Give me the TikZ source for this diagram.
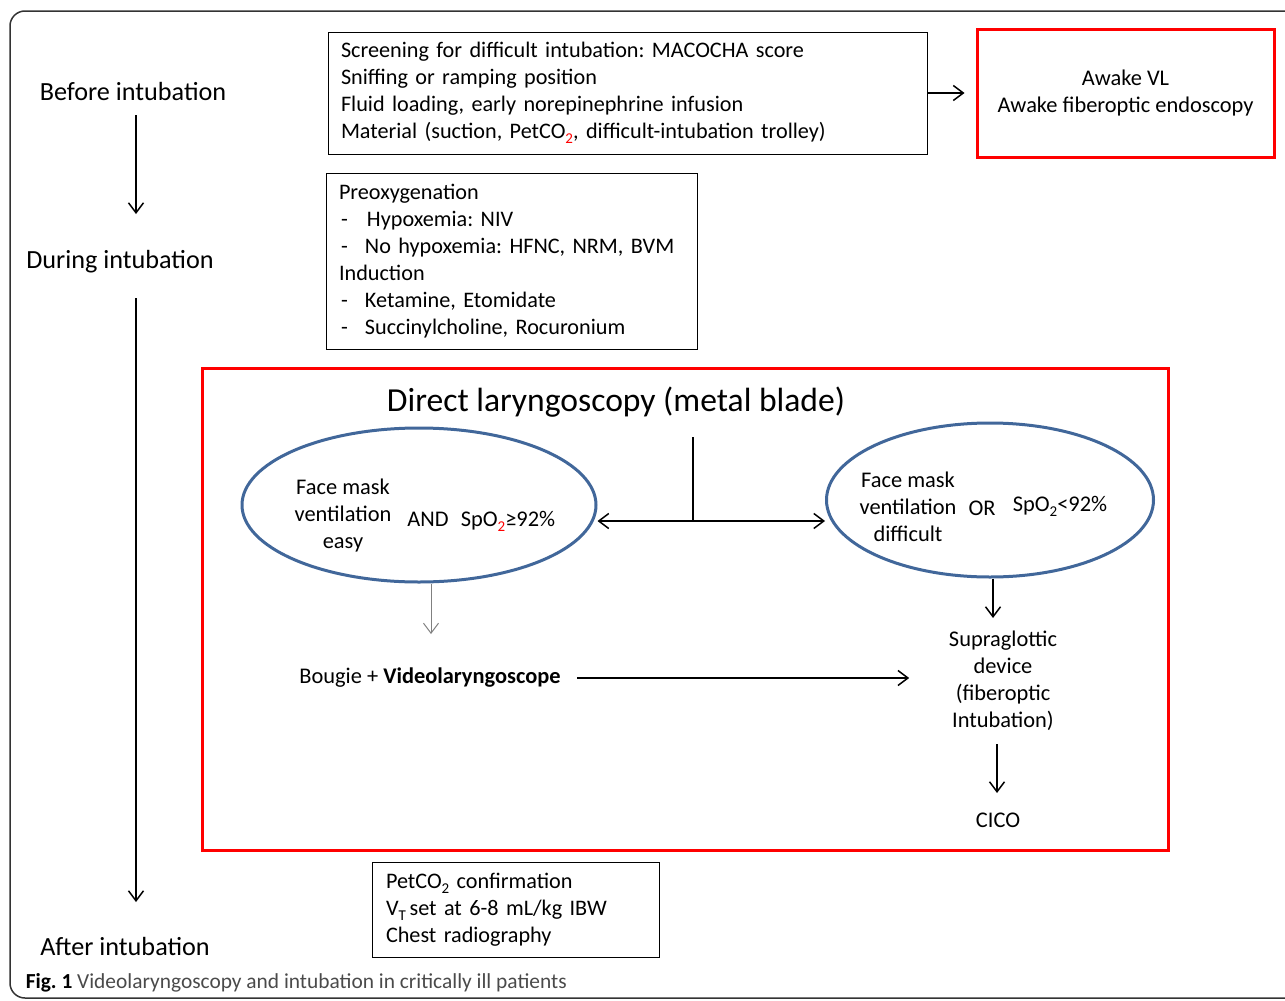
\documentclass[tikz,border=0pt]{standalone}
\usepackage{fontspec}
\setmainfont{Carlito}
\usetikzlibrary{arrows.meta,shapes.geometric}

\definecolor{ovalblue}{HTML}{41679A}
\definecolor{capgray}{HTML}{4A4A4A}
\newcommand{\dn}[1]{\raisebox{-0.45ex}{\fontsize{7.5}{7.5}\selectfont #1}}
\frenchspacing

\tikzset{
  txt/.style={inner sep=0pt, font=\fontsize{11.2}{13.5}\selectfont},
  stage/.style={inner sep=0pt, font=\fontsize{13.1}{15}\selectfont},
  infobox/.style={draw, line width=0.5pt, align=left, inner xsep=6.5pt, inner ysep=0pt, font=\fontsize{11.1}{13.5}\selectfont},
  redbox/.style={draw=red, line width=1.5pt, inner sep=0pt},
  oval/.style={draw=ovalblue, ellipse, line width=1.5pt, inner sep=0pt},
}

\begin{document}
\begin{tikzpicture}[x=0.5pt, y=-0.5pt, line width=0.75pt, >={Straight Barb[length=5pt,width=7.5pt]}]

\useasboundingbox (0,0) rectangle (1285,1001);
\clip (0,0) rectangle (1285,1001);
\draw[black!80, rounded corners=7.5pt] (10,11) rectangle (1320,998);

\node[stage] (n1) at (133, 91) {Before intubation};
\node[stage] (n2) at (120, 262) {During intubation};
\node[stage] (n3) at (125, 946) {After intubation};

\node[infobox, text width=286.5pt, minimum height=61pt] (n4) at (627.5, 93) {Screening for difficult intubation: MACOCHA score\\
Sniffing or ramping position\\
Fluid loading, early norepinephrine infusion\\
Material (suction, PetCO\dn{\textcolor{red}{2}}, difficult-intubation trolley)};
\node[redbox, txt, align=center, minimum width=148.5pt, minimum height=64pt] (n5) at (1125.5, 93) {Awake VL\\Awake fiberoptic endoscopy};

\node[infobox, text width=172.5pt, minimum height=88pt] (n6) at (511.5, 261) {Preoxygenation\\
\hspace{1pt}\makebox[13pt][l]{-}Hypoxemia: NIV\\
\hspace{1pt}\makebox[12pt][l]{-}No hypoxemia: HFNC, NRM, BVM\\
Induction\\
\hspace{1pt}\makebox[12pt][l]{-}Ketamine, Etomidate\\
\hspace{1pt}\makebox[12pt][l]{-}Succinylcholine, Rocuronium};

\node[redbox, minimum width=483pt, minimum height=241pt] (n7) at (685, 609) {};
\node[inner sep=0pt, font=\fontsize{16.8}{20}\selectfont] (n8) at (616, 402) {Direct laryngoscopy (metal blade)};

\node[oval, minimum width=177pt, minimum height=77pt] (n9) at (419, 505) {};
\node[txt, align=center] (t1) at (343, 516) {Face mask\\ventilation\\easy};
\node[txt] (t2) at (428, 519) {AND};
\node[txt] (t3) at (508, 521) {SpO\dn{\textcolor{red}{2}}≥92\%};

\node[oval, minimum width=163.5pt, minimum height=77pt] (n10) at (990, 500) {};
\node[txt, align=center] (t4) at (908, 507) {Face mask\\ventilation\\difficult};
\node[txt] (t5) at (982, 508) {OR};
\node[txt] (t6) at (1060, 506) {SpO\dn{2}<92\%};

\node[txt] (n11) at (430, 678) {Bougie + \textbf{Videolaryngoscope}};
\node[txt, align=center] (n12) at (1003, 681) {Supraglottic\\device\\(fiberoptic\\Intubation)};
\node[txt] (n13) at (998, 820) {CICO};

\node[infobox, text width=129.5pt, minimum height=47.5pt, inner xsep=7pt] (n14) at (515.5, 909.5) {PetCO\dn{2} confirmation\\
V\dn{T}\,set at 6-8 mL/kg IBW\\
Chest radiography};

\node[inner sep=0pt, anchor=west, font=\fontsize{10.7}{12}\selectfont] (n15) at (25, 983) {\textbf{Fig. 1} \textcolor{capgray}{Videolaryngoscopy and intubation in critically ill patients}};

\coordinate (c1) at (136, 115);
\coordinate (c2) at (136, 214);
\coordinate (c3) at (136, 298);
\coordinate (c4) at (136, 902);
\coordinate (c5) at (693, 437);
\coordinate (c6) at (693, 521);
\coordinate (c7) at (431, 634);
\coordinate (c8) at (993, 618);
\coordinate (c9) at (997, 744);
\coordinate (c10) at (997, 793);

\draw (c1) edge[->] (c2);
\draw (c3) edge[->] (c4);
\draw (n4) edge[->, shorten >=5.5pt] (n5);
\draw (c5) -- (c6);
\draw (n9.east |- c6) edge[<->] (n10.west |- c6);
\draw[gray, line width=0.5pt] (n9.south -| c7) edge[->] (c7);
\draw (n11.east) edge[->, shorten <=8pt, shorten >=19.5pt] (n12.west |- n11.east);
\draw (n10.south -| c8) edge[->] (c8);
\draw (c9) edge[->] (c10);

\end{tikzpicture}
\end{document}
